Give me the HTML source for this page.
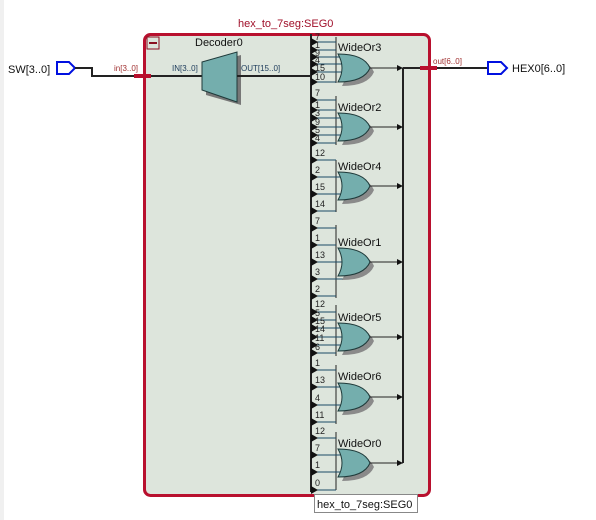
<!DOCTYPE html>
<html><head><style>
html,body{margin:0;padding:0;background:#fff;}
svg{display:block;font-family:"Liberation Sans","DejaVu Sans",sans-serif;}
.l{font-size:9px;fill:#222;}
.g{fill:#74aead;stroke:#1f3a3a;stroke-width:1;}
.s{fill:#8a8a8a;}
.in{stroke:#1b4a66;stroke-width:1;}
.w{stroke:#222;stroke-width:2;fill:none;}
.gl{font-size:11px;fill:#111;}
</style></head><body>
<svg width="596" height="520" viewBox="0 0 596 520">
<rect x="0" y="0" width="596" height="520" fill="#fff"/>
<rect x="0" y="0" width="4" height="520" fill="#f0f0f0"/>
<text x="238" y="27" font-size="11" fill="#a0102a">hex_to_7seg:SEG0</text>
<rect x="144.5" y="34.5" width="285" height="461" rx="6" fill="#dde5dc" stroke="#b8102e" stroke-width="3"/>
<rect x="147" y="37" width="12" height="12" fill="none" stroke="#8a1020" stroke-width="1"/>
<line x1="149" y1="43" x2="157" y2="43" stroke="#8a1020" stroke-width="2"/>
<text x="195" y="46" font-size="11" fill="#111">Decoder0</text>
<!-- SW input -->
<text x="8" y="73" font-size="11" fill="#111">SW[3..0]</text>
<path d="M57,62 H69 L75,68 L69,74 H57 Z" fill="none" stroke="#0010e0" stroke-width="2"/>
<path d="M75,68 H92 V76 H203" class="w"/>
<rect x="134" y="74" width="17" height="4" fill="#b8102e"/>
<text x="114" y="71" font-size="8" fill="#a03030">in[3..0]</text>
<text x="172" y="71" font-size="8" fill="#1b3a5a">IN[3..0]</text>
<!-- Decoder -->
<path d="M206,65 L241,55 L241,105 L206,95 Z" fill="#777"/>
<path d="M202,62 L237,52 L237,102 L202,90 Z" fill="#74aead" stroke="#1f3a3a"/>
<text x="241" y="71" font-size="8" fill="#1b3a5a">OUT[15..0]</text>
<line x1="237" y1="76" x2="311" y2="76" class="w"/>
<!-- bus -->
<line x1="311" y1="34" x2="311" y2="492" stroke="#222" stroke-width="2"/>
<!-- out bus -->
<line x1="403" y1="68" x2="403" y2="463" stroke="#222" stroke-width="2"/>
<line x1="403" y1="68" x2="488" y2="68" class="w"/>
<rect x="420" y="66" width="17" height="4" fill="#b8102e"/>
<text x="433" y="64" font-size="8" fill="#a03030">out[6..0]</text>
<path d="M488,62 H501 L507,68 L501,74 H488 Z" fill="none" stroke="#0010e0" stroke-width="2"/>
<text x="512" y="72" font-size="11" fill="#111">HEX0[6..0]</text>

<g id="gates">
<!-- WideOr3 -->
<g>
<line x1="336" y1="37" x2="336" y2="83" stroke="#222"/>
<g class="in"><line x1="311" y1="42" x2="336" y2="42"/><line x1="311" y1="50" x2="336" y2="50"/><line x1="311" y1="57" x2="345" y2="57"/><line x1="311" y1="64" x2="345" y2="64"/><line x1="311" y1="72" x2="345" y2="72"/><line x1="311" y1="82" x2="336" y2="82"/></g>
<text class="l" x="315" y="40">7</text><text class="l" x="315" y="48">1</text><text class="l" x="315" y="56">9</text><text class="l" x="315" y="63">4</text><text class="l" x="315" y="71">15</text><text class="l" x="315" y="80">10</text>
<text class="gl" x="338" y="51">WideOr3</text>
</g>
<!-- WideOr2 -->
<g>
<line x1="336" y1="96" x2="336" y2="145" stroke="#222"/>
<g class="in"><line x1="311" y1="100" x2="336" y2="100"/><line x1="311" y1="110" x2="336" y2="110"/><line x1="311" y1="118" x2="345" y2="118"/><line x1="311" y1="127" x2="345" y2="127"/><line x1="311" y1="135" x2="345" y2="135"/><line x1="311" y1="143" x2="336" y2="143"/></g>
<text class="l" x="315" y="96">7</text><text class="l" x="315" y="108">1</text><text class="l" x="315" y="116">3</text><text class="l" x="315" y="125">9</text><text class="l" x="315" y="133">5</text><text class="l" x="315" y="141">4</text>
<text class="gl" x="338" y="111">WideOr2</text>
</g>
<!-- WideOr4 -->
<g>
<line x1="336" y1="160" x2="336" y2="212" stroke="#222"/>
<g class="in"><line x1="311" y1="160" x2="336" y2="160"/><line x1="311" y1="177" x2="345" y2="177"/><line x1="311" y1="194" x2="345" y2="194"/><line x1="311" y1="211" x2="336" y2="211"/></g>
<text class="l" x="315" y="156">12</text><text class="l" x="315" y="173">2</text><text class="l" x="315" y="190">15</text><text class="l" x="315" y="207">14</text>
<text class="gl" x="338" y="170">WideOr4</text>
</g>
<!-- WideOr1 -->
<g>
<line x1="336" y1="225" x2="336" y2="298" stroke="#222"/>
<g class="in"><line x1="311" y1="228" x2="336" y2="228"/><line x1="311" y1="245" x2="336" y2="245"/><line x1="311" y1="262" x2="345" y2="262"/><line x1="311" y1="279" x2="345" y2="279"/><line x1="311" y1="296" x2="336" y2="296"/></g>
<text class="l" x="315" y="224">7</text><text class="l" x="315" y="241">1</text><text class="l" x="315" y="258">13</text><text class="l" x="315" y="275">3</text><text class="l" x="315" y="292">2</text>
<text class="gl" x="338" y="246">WideOr1</text>
</g>
<!-- WideOr5 -->
<g>
<line x1="336" y1="305" x2="336" y2="356" stroke="#222"/>
<g class="in"><line x1="311" y1="312" x2="336" y2="312"/><line x1="311" y1="320" x2="336" y2="320"/><line x1="311" y1="328" x2="345" y2="328"/><line x1="311" y1="337" x2="345" y2="337"/><line x1="311" y1="345" x2="345" y2="345"/><line x1="311" y1="353" x2="336" y2="353"/></g>
<text class="l" x="315" y="307">12</text><text class="l" x="315" y="316">5</text><text class="l" x="315" y="324">15</text><text class="l" x="315" y="332">14</text><text class="l" x="315" y="341">11</text><text class="l" x="315" y="350">6</text>
<text class="gl" x="338" y="321">WideOr5</text>
</g>
<!-- WideOr6 -->
<g>
<line x1="336" y1="365" x2="336" y2="424" stroke="#222"/>
<g class="in"><line x1="311" y1="370" x2="336" y2="370"/><line x1="311" y1="387" x2="345" y2="387"/><line x1="311" y1="405" x2="345" y2="405"/><line x1="311" y1="422" x2="336" y2="422"/></g>
<text class="l" x="315" y="366">1</text><text class="l" x="315" y="383">13</text><text class="l" x="315" y="401">4</text><text class="l" x="315" y="418">11</text>
<text class="gl" x="338" y="380">WideOr6</text>
</g>
<!-- WideOr0 -->
<g>
<line x1="336" y1="432" x2="336" y2="490" stroke="#222"/>
<g class="in"><line x1="311" y1="438" x2="336" y2="438"/><line x1="311" y1="455" x2="345" y2="455"/><line x1="311" y1="472" x2="345" y2="472"/><line x1="311" y1="490" x2="336" y2="490"/></g>
<text class="l" x="315" y="434">12</text><text class="l" x="315" y="451">7</text><text class="l" x="315" y="468">1</text><text class="l" x="315" y="486">0</text>
<text class="gl" x="338" y="447">WideOr0</text>
</g>
</g>

<!-- input arrows -->
<g fill="#111">
<path d="M311,38 l7,4 l-7,4z"/><path d="M311,46 l7,4 l-7,4z"/><path d="M311,53 l7,4 l-7,4z"/><path d="M311,60 l7,4 l-7,4z"/><path d="M311,68 l7,4 l-7,4z"/><path d="M311,78 l7,4 l-7,4z"/>
<path d="M311,96 l7,4 l-7,4z"/><path d="M311,106 l7,4 l-7,4z"/><path d="M311,114 l7,4 l-7,4z"/><path d="M311,123 l7,4 l-7,4z"/><path d="M311,131 l7,4 l-7,4z"/><path d="M311,139 l7,4 l-7,4z"/>
<path d="M311,156 l7,4 l-7,4z"/><path d="M311,173 l7,4 l-7,4z"/><path d="M311,190 l7,4 l-7,4z"/><path d="M311,207 l7,4 l-7,4z"/>
<path d="M311,224 l7,4 l-7,4z"/><path d="M311,241 l7,4 l-7,4z"/><path d="M311,258 l7,4 l-7,4z"/><path d="M311,275 l7,4 l-7,4z"/><path d="M311,292 l7,4 l-7,4z"/>
<path d="M311,308 l7,4 l-7,4z"/><path d="M311,316 l7,4 l-7,4z"/><path d="M311,324 l7,4 l-7,4z"/><path d="M311,333 l7,4 l-7,4z"/><path d="M311,341 l7,4 l-7,4z"/><path d="M311,349 l7,4 l-7,4z"/>
<path d="M311,366 l7,4 l-7,4z"/><path d="M311,383 l7,4 l-7,4z"/><path d="M311,401 l7,4 l-7,4z"/><path d="M311,418 l7,4 l-7,4z"/>
<path d="M311,434 l7,4 l-7,4z"/><path d="M311,451 l7,4 l-7,4z"/><path d="M311,468 l7,4 l-7,4z"/><path d="M311,486 l7,4 l-7,4z"/>
</g>

<!-- gate bodies: shadow + body + output wire + junction -->
<defs>
<path id="or" d="M0,-14 Q26,-14 32,0 Q26,14 0,14 Q8,0 0,-14 Z"/>
</defs>
<g>
<use href="#or" x="342" y="72" class="s"/><use href="#or" x="338" y="68" class="g"/>
<use href="#or" x="342" y="131" class="s"/><use href="#or" x="338" y="127" class="g"/>
<use href="#or" x="342" y="190" class="s"/><use href="#or" x="338" y="186" class="g"/>
<use href="#or" x="342" y="266" class="s"/><use href="#or" x="338" y="262" class="g"/>
<use href="#or" x="342" y="341" class="s"/><use href="#or" x="338" y="337" class="g"/>
<use href="#or" x="342" y="401" class="s"/><use href="#or" x="338" y="397" class="g"/>
<use href="#or" x="342" y="467" class="s"/><use href="#or" x="338" y="463" class="g"/>
</g>
<g stroke="#222" stroke-width="1">
<line x1="370" y1="68" x2="403" y2="68"/><line x1="370" y1="127" x2="403" y2="127"/><line x1="370" y1="186" x2="403" y2="186"/><line x1="370" y1="262" x2="403" y2="262"/><line x1="370" y1="337" x2="403" y2="337"/><line x1="370" y1="397" x2="403" y2="397"/><line x1="370" y1="463" x2="403" y2="463"/>
</g>
<g fill="#111">
<path d="M397,65 l6,3 l-6,3z"/><path d="M397,124 l6,3 l-6,3z"/><path d="M397,183 l6,3 l-6,3z"/><path d="M397,259 l6,3 l-6,3z"/><path d="M397,334 l6,3 l-6,3z"/><path d="M397,394 l6,3 l-6,3z"/><path d="M397,460 l6,3 l-6,3z"/>
</g>

<!-- tooltip -->
<rect x="314.5" y="494.5" width="103" height="18" fill="#fff" stroke="#888"/>
<text x="317" y="508" font-size="11" fill="#111">hex_to_7seg:SEG0</text>
</svg>
</body></html>
